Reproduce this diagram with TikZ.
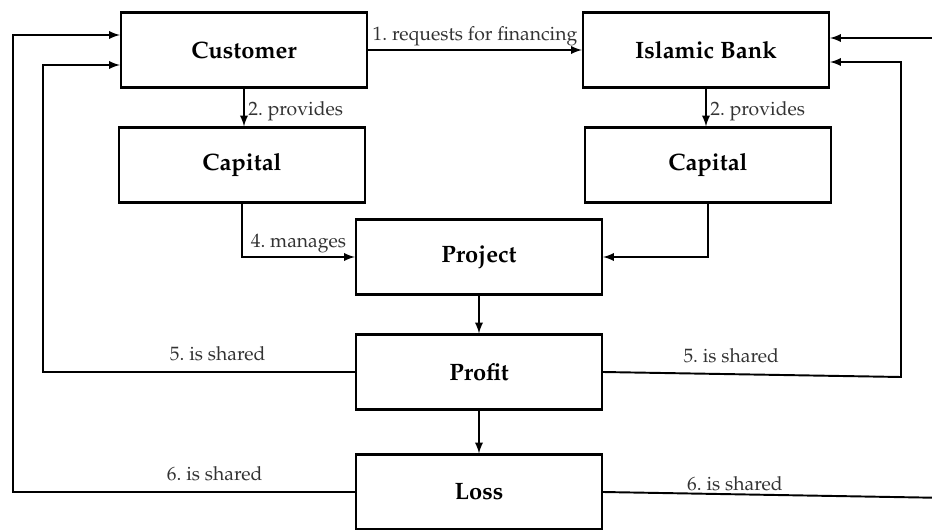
\documentclass[tikz,border=0pt]{standalone}
\usepackage[T1]{fontenc}
\usepackage{mathpazo}
\usetikzlibrary{arrows}
\frenchspacing
\begin{document}
\begin{tikzpicture}[x=0.02cm,y=-0.02cm,line width=1.1pt,-]
                \tikzstyle{box}=[rectangle,draw=black,line width=1.3pt,fill=white,minimum width=4.92cm,minimum height=1.5cm,inner sep=0pt,font=\fontsize{13.5}{16}\selectfont\bfseries]
                \tikzstyle{lbl}=[text=black!80,font=\fontsize{11}{13}\selectfont,inner sep=2pt]
                \useasboundingbox (0,0) rectangle (932,530);
                \foreach \name/\txt/\x/\y in {cust/Customer/244/50, bank/Islamic Bank/706/50, capL/Capital/242/165, capR/Capital/708/165, proj/Project/479/257, prof/Profit/479/372, loss/Loss/479/492}
                    \node[box] (\name) at (\x,\y) {\txt};

                % corners of the return lines
                \coordinate (l5) at (43,372);
                \coordinate (l6) at (13,492);
                \coordinate (r5) at (901,377);
                \coordinate (r6) at (950,498);

                \draw[-latex] (cust.east) -- node[lbl,above]{1. requests for financing} (bank.west);
                \draw[-latex] (cust.south) -- node[lbl,right,yshift=-2pt]{2. provides} (cust.south |- capL.north);
                \draw[-latex] (bank.south) -- node[lbl,right,yshift=-2pt]{2. provides} (bank.south |- capR.north);
                \draw[-latex] (capL.south) |- node[lbl,above,pos=0.75]{4. manages} (proj.west);
                \draw[-latex] (capR.south) |- (proj.east);
                \draw[-latex] (proj) -- (prof);
                \draw[-latex] (prof) -- (loss);

                \draw[-latex] (prof.west) -- node[lbl,above=4pt,pos=0.44]{5. is shared} (l5) |- ([yshift=-0.3cm]cust.west);
                \draw[-latex] (loss.west) -- node[lbl,above=4pt,pos=0.41]{6. is shared} (l6) |- ([yshift=0.3cm]cust.west);
                \draw[-latex] (prof.east) -- node[lbl,above=4pt,pos=0.43]{5. is shared} (r5) |- ([yshift=-0.24cm]bank.east);
                \draw[-latex] (loss.east) -- node[lbl,above=1pt,pos=0.38,inner sep=0.5pt]{6. is shared} (r6) |- ([yshift=0.24cm]bank.east);
            \end{tikzpicture}
\end{document}
